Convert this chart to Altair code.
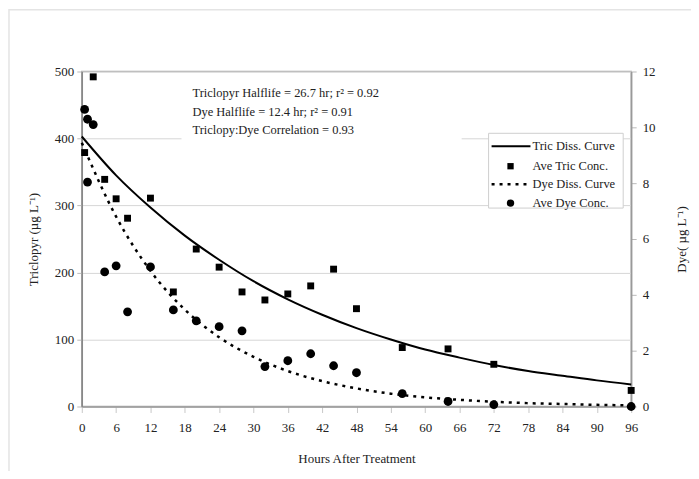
import altair as alt
import pandas as pd

# ---------------- data ----------------
hours_tric = [0.5, 2, 4, 6, 8, 12, 16, 20, 24, 28, 32, 36, 40, 44, 48, 56, 64, 72, 96]
tric_conc = [379, 492, 339, 310, 281, 311, 171, 235, 208, 171, 159, 168, 180, 205, 146, 88, 86, 63, 24]

hours_dye = [0.5, 1, 1, 2, 4, 6, 8, 12, 16, 20, 24, 28, 32, 36, 40, 44, 48, 56, 64, 72, 96]
dye_conc = [10.64, 10.29, 8.04, 10.1, 4.82, 5.04, 3.39, 5.0, 3.46, 3.07, 2.86, 2.71, 1.43, 1.64,
            1.89, 1.46, 1.21, 0.46, 0.18, 0.07, 0.0]

curve_hours = [0, 6, 12, 18, 24, 30, 36, 42, 48, 54, 60, 66, 72, 78, 84, 90, 96]
tric_curve = [403, 345, 297, 255, 219, 187, 160, 137, 117, 100, 85, 73, 62, 53, 46, 39, 33]
dye_curve = [9.45, 6.8, 4.86, 3.47, 2.48, 1.78, 1.27, 0.91, 0.65, 0.46, 0.33, 0.24, 0.17,
             0.12, 0.09, 0.06, 0.04]

x_ticks = [0, 6, 12, 18, 24, 30, 36, 42, 48, 54, 60, 66, 72, 78, 84, 90, 96]
left_ticks = [0, 100, 200, 300, 400, 500]
right_ticks = [0, 2, 4, 6, 8, 10, 12]

annotation_lines = [
    "Triclopyr Halflife = 26.7 hr; r\u00b2 = 0.92",
    "Dye Halflife = 12.4 hr; r\u00b2 = 0.91",
    "Triclopy:Dye Correlation = 0.93",
]
legend_labels = ["Tric Diss. Curve", "Ave Tric Conc.", "Dye Diss. Curve", "Ave Dye Conc."]

x_title = "Hours After Treatment"
left_title = "Triclopyr (\u00b5g L\u207b\u00b9)"
right_title = "Dye( \u00b5g L\u207b\u00b9)"

# ---------------- chart ----------------
W, H = 551, 336
FONT = "Liberation Serif"

tric_pts = pd.DataFrame({"h": hours_tric, "v": tric_conc})
dye_pts = pd.DataFrame({"h": hours_dye, "v": dye_conc})
tric_line = pd.DataFrame({"h": curve_hours, "v": tric_curve})
dye_line = pd.DataFrame({"h": curve_hours, "v": dye_curve})
one = pd.DataFrame({"k": [0]})

xenc = alt.X(
    "h:Q",
    scale=alt.Scale(domain=[0, 96], nice=False, zero=False),
    axis=alt.Axis(values=x_ticks, title=x_title, grid=False, tickSize=6, tickColor="#c8c8c8",
                  domainColor="#999999", labelPadding=9, titlePadding=18, labelFlush=False),
)

y_left = alt.Y(
    "v:Q",
    scale=alt.Scale(domain=[0, 500], nice=False),
    axis=alt.Axis(values=left_ticks, title=left_title, orient="left", grid=True,
                  gridColor="#d6d6d6", tickSize=5, tickColor="#bbbbbb", domainColor="#888888",
                  labelPadding=3, titlePadding=14),
)
y_right = alt.Y(
    "v:Q",
    scale=alt.Scale(domain=[0, 12], nice=False),
    axis=alt.Axis(values=right_ticks, title=right_title, orient="right", grid=False,
                  tickSize=5, tickColor="#bbbbbb", domainColor="#999999",
                  labelPadding=6, titlePadding=33, titleAngle=270),
)

tric_curve_mark = alt.Chart(tric_line).mark_line(
    color="black", strokeWidth=2, interpolate="monotone"
).encode(x=xenc, y=y_left)
tric_pt_mark = alt.Chart(tric_pts).mark_square(
    color="black", size=48, opacity=1
).encode(x=xenc, y=y_left)

dye_curve_mark = alt.Chart(dye_line).mark_line(
    color="black", strokeWidth=2.5, strokeDash=[3, 5], interpolate="monotone"
).encode(x=xenc, y=y_right)
dye_pt_mark = alt.Chart(dye_pts).mark_circle(
    color="black", size=78, opacity=1
).encode(x=xenc, y=y_right)

# annotation box
ann_box = alt.Chart(one).mark_rect(fill="white").encode(
    x=alt.value(100), x2=alt.value(381), y=alt.value(10), y2=alt.value(70)
)
ann_texts = [
    alt.Chart(one).mark_text(text=line, align="left", baseline="middle", font=FONT,
                             fontSize=12.5, color="#222222").encode(
        x=alt.value(111), y=alt.value(yy))
    for line, yy in zip(annotation_lines, [22, 41, 59])
]

# legend
leg_box = alt.Chart(one).mark_rect(fill="white", stroke="#cfcfcf", strokeWidth=1).encode(
    x=alt.value(408), x2=alt.value(543), y=alt.value(62), y2=alt.value(137)
)
leg_rows = [75, 95, 113, 132]
leg_line1 = alt.Chart(one).mark_rule(color="black", strokeWidth=2).encode(
    x=alt.value(411), x2=alt.value(450), y=alt.value(leg_rows[0])
)
leg_sq = alt.Chart(one).mark_square(color="black", size=40, opacity=1).encode(
    x=alt.value(430), y=alt.value(leg_rows[1])
)
leg_line2 = alt.Chart(one).mark_rule(color="black", strokeWidth=2.5, strokeDash=[3, 5]).encode(
    x=alt.value(411), x2=alt.value(450), y=alt.value(leg_rows[2])
)
leg_ci = alt.Chart(one).mark_circle(color="black", size=55, opacity=1).encode(
    x=alt.value(430), y=alt.value(leg_rows[3])
)
leg_texts = [
    alt.Chart(one).mark_text(text=lab, align="left", baseline="middle", font=FONT,
                             fontSize=12.5, color="#222222").encode(
        x=alt.value(452), y=alt.value(yy))
    for lab, yy in zip(legend_labels, leg_rows)
]

# faint outer chart frame
frame = alt.Chart(one).mark_rect(fillOpacity=0, stroke="#e4e4e4", strokeWidth=1.5).encode(
    x=alt.value(-73), x2=alt.value(W + 200), y=alt.value(-62), y2=alt.value(H + 200)
)

left_group = alt.layer(
    frame, tric_curve_mark, tric_pt_mark, ann_box, *ann_texts,
    leg_box, leg_line1, leg_sq, leg_line2, leg_ci, *leg_texts,
)
right_group = alt.layer(dye_curve_mark, dye_pt_mark)

chart = alt.layer(left_group, right_group).resolve_scale(y="independent").properties(
    width=W,
    height=H,
    autosize=alt.AutoSizeParams(type="none"),
    padding={"left": 74, "top": 63, "right": 60, "bottom": 64},
    background="white",
).configure_view(stroke="#a8a8a8", strokeWidth=1.5).configure_axis(
    labelFont=FONT, titleFont=FONT, labelFontSize=13, titleFontSize=13,
    labelColor="#222222", titleColor="#222222", titleFontWeight="normal",
    domainWidth=1.5,
)

chart.save("out.html", embed_options={"renderer": "svg", "actions": False})
